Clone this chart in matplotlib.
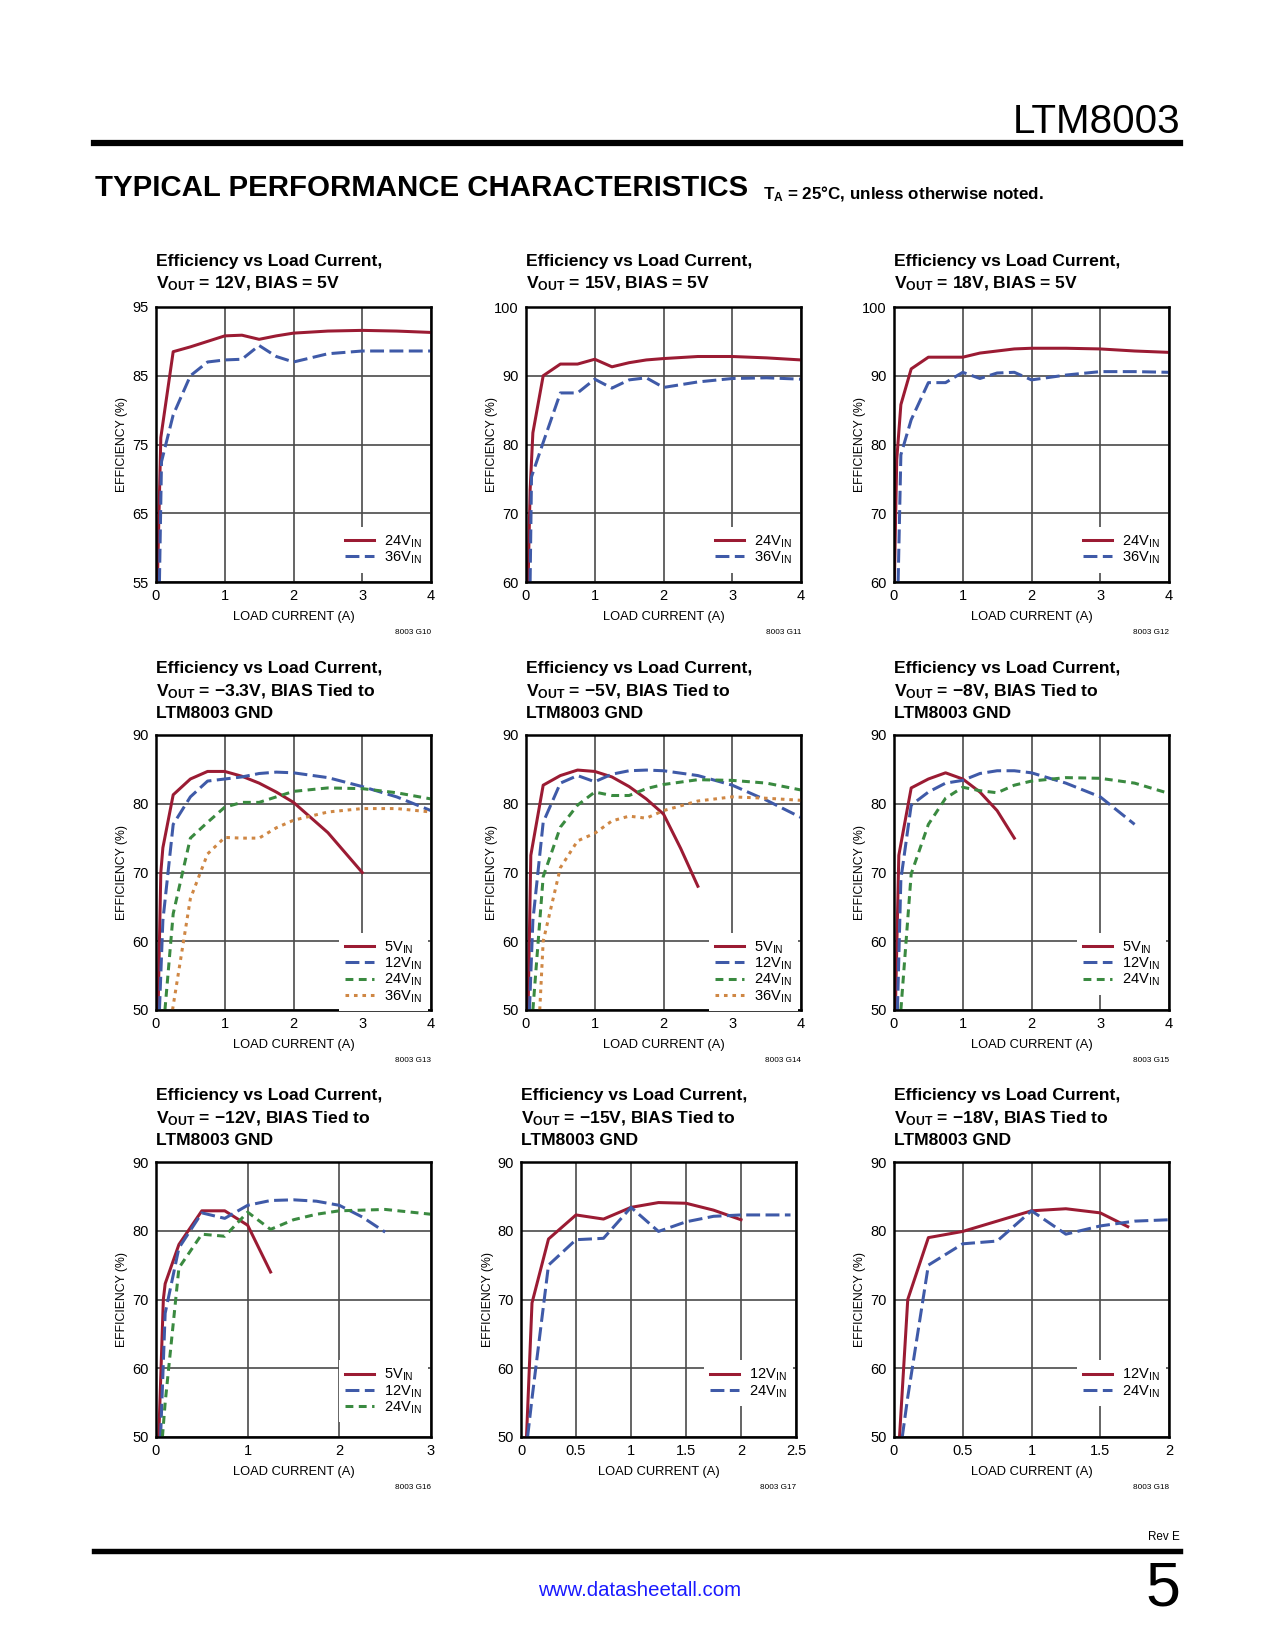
import matplotlib
matplotlib.use("Agg")
import matplotlib.pyplot as plt

plt.rcParams['font.family'] = ['Liberation Sans', 'DejaVu Sans']
plt.rcParams['mathtext.default'] = 'regular'

W, H = 1275, 1650
RED = '#9b1b33'
BLUE = '#3f5aa8'
GREEN = '#3a8a40'
ORANGE = '#cf8744'

# VOUT = 12V, BIAS = 5V
v12_x24 = [0.02, 0.07, 0.25, 0.5, 0.75, 1.0, 1.25, 1.5, 1.75, 2.0, 2.5, 3.0, 3.5, 4.0]
v12_y24 = [55, 76, 88.5, 89.2, 90.0, 90.8, 90.9, 90.3, 90.8, 91.2, 91.5, 91.6, 91.5, 91.3]
v12_x36 = [0.05, 0.08, 0.25, 0.5, 0.75, 1.0, 1.25, 1.5, 1.75, 2.0, 2.5, 3.0, 3.5, 4.0]
v12_y36 = [55, 72.5, 79.3, 85.0, 87.0, 87.3, 87.4, 89.4, 87.8, 87.0, 88.2, 88.6, 88.6, 88.6]

# VOUT = 15V, BIAS = 5V
v15_x24 = [0.03, 0.06, 0.1, 0.25, 0.5, 0.75, 1.0, 1.25, 1.5, 1.75, 2.0, 2.5, 3.0, 3.5, 4.0]
v15_y24 = [60, 73.4, 81.7, 90.0, 91.7, 91.7, 92.4, 91.3, 91.9, 92.3, 92.5, 92.8, 92.8, 92.6, 92.3]
v15_x36 = [0.06, 0.08, 0.25, 0.5, 0.75, 1.0, 1.25, 1.5, 1.75, 2.0, 2.5, 3.0, 3.5, 4.0]
v15_y36 = [60, 75.3, 80.3, 87.5, 87.5, 89.5, 88.2, 89.4, 89.7, 88.3, 89.1, 89.6, 89.7, 89.5]

# VOUT = 18V, BIAS = 5V
v18_x24 = [0.005, 0.04, 0.1, 0.25, 0.5, 0.75, 1.0, 1.25, 1.5, 1.75, 2.0, 2.5, 3.0, 3.5, 4.0]
v18_y24 = [60, 77.8, 85.8, 91.0, 92.7, 92.7, 92.7, 93.3, 93.6, 93.9, 94.0, 94.0, 93.9, 93.6, 93.4]
v18_x36 = [0.06, 0.1, 0.25, 0.5, 0.75, 1.0, 1.25, 1.5, 1.75, 2.0, 2.5, 3.0, 3.5, 4.0]
v18_y36 = [60, 78.5, 83.6, 89.0, 89.0, 90.5, 89.6, 90.4, 90.5, 89.4, 90.1, 90.6, 90.6, 90.5]

# VOUT = -3.3V
n3_x5 = [0.03, 0.07, 0.1, 0.25, 0.5, 0.75, 1.0, 1.25, 1.5, 1.75, 2.0, 2.5, 3.0]
n3_y5 = [50, 70.0, 73.6, 81.3, 83.6, 84.7, 84.7, 84.0, 83.0, 81.7, 80.2, 75.8, 70.0]
n3_x12 = [0.05, 0.1, 0.25, 0.5, 0.75, 1.0, 1.25, 1.5, 1.75, 2.0, 2.5, 3.0, 3.5, 4.0]
n3_y12 = [50, 63, 77.0, 81.0, 83.3, 83.6, 83.9, 84.4, 84.6, 84.5, 83.8, 82.5, 81.0, 79.0]
n3_x24 = [0.13, 0.25, 0.5, 0.75, 1.0, 1.25, 1.5, 1.75, 2.0, 2.5, 3.0, 3.5, 4.0]
n3_y24 = [50, 64, 75.0, 77.3, 79.5, 80.2, 80.2, 81.0, 81.8, 82.3, 82.2, 81.6, 80.7]
n3_x36 = [0.24, 0.5, 0.75, 1.0, 1.25, 1.5, 1.75, 2.0, 2.5, 3.0, 3.5, 4.0]
n3_y36 = [50, 66.2, 72.7, 75.1, 75.0, 75.0, 76.5, 77.6, 78.8, 79.3, 79.3, 78.8]

# VOUT = -5V
n5_x5 = [0.03, 0.07, 0.25, 0.5, 0.75, 1.0, 1.25, 1.5, 1.75, 2.0, 2.25, 2.5]
n5_y5 = [50, 72.5, 82.7, 84.1, 84.9, 84.7, 83.9, 82.5, 80.7, 78.5, 73.5, 68.0]
n5_x12 = [0.05, 0.1, 0.25, 0.5, 0.75, 1.0, 1.25, 1.5, 1.75, 2.0, 2.5, 3.0, 3.5, 4.0]
n5_y12 = [50, 63, 77.3, 83.0, 84.1, 83.2, 84.3, 84.8, 84.9, 84.8, 84.1, 82.7, 80.5, 78.0]
n5_x24 = [0.1, 0.25, 0.5, 0.75, 1.0, 1.25, 1.5, 1.75, 2.0, 2.5, 3.0, 3.5, 4.0]
n5_y24 = [50, 69.4, 76.6, 79.8, 81.7, 81.2, 81.2, 82.2, 82.8, 83.5, 83.4, 83.0, 82.0]
n5_x36 = [0.2, 0.25, 0.5, 0.75, 1.0, 1.25, 1.5, 1.75, 2.0, 2.5, 3.0, 3.5, 4.0]
n5_y36 = [50, 60, 70.7, 74.6, 75.7, 77.5, 78.2, 77.9, 79.0, 80.4, 81.0, 80.8, 80.5]

# VOUT = -8V
n8_x5 = [0.02, 0.07, 0.25, 0.5, 0.75, 1.0, 1.25, 1.5, 1.75]
n8_y5 = [50, 72.5, 82.3, 83.6, 84.5, 83.6, 81.7, 79.0, 75.0]
n8_x12 = [0.05, 0.1, 0.25, 0.5, 0.75, 1.0, 1.25, 1.5, 1.75, 2.0, 2.5, 3.0, 3.5]
n8_y12 = [50, 69, 79.8, 81.7, 83.0, 83.4, 84.4, 84.8, 84.8, 84.5, 83.0, 81.0, 77.0]
n8_x24 = [0.1, 0.25, 0.5, 0.75, 1.0, 1.25, 1.5, 1.75, 2.0, 2.5, 3.0, 3.5, 4.0]
n8_y24 = [50, 69.8, 77.0, 80.8, 82.4, 81.9, 81.6, 82.7, 83.3, 83.8, 83.7, 83.0, 81.5]

# VOUT = -12V
n12_x5 = [0.03, 0.08, 0.1, 0.25, 0.5, 0.75, 1.0, 1.25]
n12_y5 = [50, 70.0, 72.3, 78.0, 82.9, 82.9, 80.8, 74.0]
n12_x12 = [0.05, 0.1, 0.25, 0.5, 0.75, 1.0, 1.25, 1.5, 1.75, 2.0, 2.25, 2.5]
n12_y12 = [50, 68, 77.5, 82.6, 81.8, 83.7, 84.4, 84.5, 84.3, 83.7, 82.0, 79.8]
n12_x24 = [0.07, 0.1, 0.25, 0.5, 0.75, 1.0, 1.25, 1.5, 1.75, 2.0, 2.5, 3.0]
n12_y24 = [50, 55, 74.6, 79.5, 79.2, 82.7, 80.2, 81.6, 82.4, 82.9, 83.1, 82.4]

# VOUT = -15V
n15_x12 = [0.05, 0.1, 0.25, 0.5, 0.75, 1.0, 1.25, 1.5, 1.75, 2.0]
n15_y12 = [50, 69.5, 78.8, 82.3, 81.7, 83.4, 84.1, 84.0, 83.0, 81.6]
n15_x24 = [0.06, 0.1, 0.25, 0.5, 0.75, 1.0, 1.25, 1.5, 1.75, 2.0, 2.45]
n15_y24 = [50, 55.6, 75.0, 78.7, 78.9, 83.4, 79.9, 81.3, 82.1, 82.3, 82.3]

# VOUT = -18V
n18_x12 = [0.04, 0.07, 0.1, 0.25, 0.5, 0.75, 1.0, 1.25, 1.5, 1.7]
n18_y12 = [50, 60, 70.0, 79.0, 79.9, 81.4, 82.9, 83.2, 82.6, 80.6]
n18_x24 = [0.06, 0.1, 0.25, 0.5, 0.75, 1.0, 1.25, 1.5, 1.75, 2.0]
n18_y24 = [50, 55.8, 75.0, 78.1, 78.5, 82.9, 79.5, 80.7, 81.4, 81.6]

xticks_4 = [0, 1, 2, 3, 4]
xticks_3 = [0, 1, 2, 3]
xticks_25 = [0, 0.5, 1, 1.5, 2, 2.5]
xticks_2 = [0, 0.5, 1, 1.5, 2]

STY = {
    'red': dict(color=RED, linestyle='-'),
    'blue': dict(color=BLUE, dashes=(4.6, 1.8)),
    'green': dict(color=GREEN, dashes=(2.6, 1.8)),
    'orange': dict(color=ORANGE, dashes=(1.2, 1.6), dash_capstyle='butt'),
}

panels = [
    dict(pos=(156, 307), title='Efficiency vs Load Current,\n$V_{OUT}$ = 12V, BIAS = 5V',
         xt=xticks_4, yl=(55, 95), yt=[55, 65, 75, 85, 95], code='8003 G10', leg=0.212,
         series=[(v12_x24, v12_y24, 'red', '24V'), (v12_x36, v12_y36, 'blue', '36V')]),
    dict(pos=(526, 307), title='Efficiency vs Load Current,\n$V_{OUT}$ = 15V, BIAS = 5V',
         xt=xticks_4, yl=(60, 100), yt=[60, 70, 80, 90, 100], code='8003 G11', leg=0.212,
         series=[(v15_x24, v15_y24, 'red', '24V'), (v15_x36, v15_y36, 'blue', '36V')]),
    dict(pos=(894, 307), title='Efficiency vs Load Current,\n$V_{OUT}$ = 18V, BIAS = 5V',
         xt=xticks_4, yl=(60, 100), yt=[60, 70, 80, 90, 100], code='8003 G12', leg=0.212,
         series=[(v18_x24, v18_y24, 'red', '24V'), (v18_x36, v18_y36, 'blue', '36V')]),
    dict(pos=(156, 735), title='Efficiency vs Load Current,\n$V_{OUT}$ = \u22123.3V, BIAS Tied to\nLTM8003 GND',
         xt=xticks_4, yl=(50, 90), yt=[50, 60, 70, 80, 90], code='8003 G13', leg=0.292,
         series=[(n3_x5, n3_y5, 'red', '5V'), (n3_x12, n3_y12, 'blue', '12V'),
                 (n3_x24, n3_y24, 'green', '24V'), (n3_x36, n3_y36, 'orange', '36V')]),
    dict(pos=(526, 735), title='Efficiency vs Load Current,\n$V_{OUT}$ = \u22125V, BIAS Tied to\nLTM8003 GND',
         xt=xticks_4, yl=(50, 90), yt=[50, 60, 70, 80, 90], code='8003 G14', leg=0.292,
         series=[(n5_x5, n5_y5, 'red', '5V'), (n5_x12, n5_y12, 'blue', '12V'),
                 (n5_x24, n5_y24, 'green', '24V'), (n5_x36, n5_y36, 'orange', '36V')]),
    dict(pos=(894, 735), title='Efficiency vs Load Current,\n$V_{OUT}$ = \u22128V, BIAS Tied to\nLTM8003 GND',
         xt=xticks_4, yl=(50, 90), yt=[50, 60, 70, 80, 90], code='8003 G15', leg=0.292,
         series=[(n8_x5, n8_y5, 'red', '5V'), (n8_x12, n8_y12, 'blue', '12V'),
                 (n8_x24, n8_y24, 'green', '24V')]),
    dict(pos=(156, 1162), title='Efficiency vs Load Current,\n$V_{OUT}$ = \u221212V, BIAS Tied to\nLTM8003 GND',
         xt=xticks_3, yl=(50, 90), yt=[50, 60, 70, 80, 90], code='8003 G16', leg=0.29,
         series=[(n12_x5, n12_y5, 'red', '5V'), (n12_x12, n12_y12, 'blue', '12V'),
                 (n12_x24, n12_y24, 'green', '24V')]),
    dict(pos=(521, 1162), title='Efficiency vs Load Current,\n$V_{OUT}$ = \u221215V, BIAS Tied to\nLTM8003 GND',
         xt=xticks_25, yl=(50, 90), yt=[50, 60, 70, 80, 90], code='8003 G17', leg=0.29,
         series=[(n15_x12, n15_y12, 'red', '12V'), (n15_x24, n15_y24, 'blue', '24V')]),
    dict(pos=(894, 1162), title='Efficiency vs Load Current,\n$V_{OUT}$ = \u221218V, BIAS Tied to\nLTM8003 GND',
         xt=xticks_2, yl=(50, 90), yt=[50, 60, 70, 80, 90], code='8003 G18', leg=0.29,
         series=[(n18_x12, n18_y12, 'red', '12V'), (n18_x24, n18_y24, 'blue', '24V')]),
]

fig = plt.figure(figsize=(W / 150, H / 150), dpi=150)

AW, AH = 275, 275
for p in panels:
    l, t = p['pos']
    ax = fig.add_axes([l / W, 1 - (t + AH) / H, AW / W, AH / H])
    for xs, ys, key, lab in p['series']:
        ax.plot(xs, ys, lw=1.45, label=lab + '$_{IN}$', **STY[key])
    ax.set_xlim(p['xt'][0], p['xt'][-1])
    ax.set_ylim(*p['yl'])
    ax.set_xticks(p['xt'])
    ax.set_xticklabels(['{:g}'.format(v) for v in p['xt']])
    ax.set_yticks(p['yt'])
    ax.tick_params(length=0, labelsize=7.0, pad=3.5)
    ax.grid(True, color='#4a4a4a', lw=0.8)
    ax.set_axisbelow(True)
    for s in ax.spines.values():
        s.set_linewidth(1.2)
    ax.set_xlabel('LOAD CURRENT (A)', fontsize=6.2)
    ax.xaxis.set_label_coords(0.5, -0.105)
    ax.set_ylabel('EFFICIENCY (%)', fontsize=5.9)
    ax.yaxis.set_label_coords(-0.10, 0.5)
    ax.text(1.0, -0.183, p['code'], transform=ax.transAxes, ha='right', va='center', fontsize=3.9)
    ax.text(0.0, 1.05, p['title'], transform=ax.transAxes, ha='left', va='bottom',
            fontsize=8.4, fontweight='bold', linespacing=1.46)
    ax.legend(loc='upper right', bbox_to_anchor=(1.0, p['leg']), borderaxespad=0.2,
              frameon=True, fancybox=False, framealpha=1, facecolor='white', edgecolor='none',
              fontsize=7.0, handlelength=2.0, handletextpad=0.65, labelspacing=0.0,
              borderpad=0.45)

# page header and footer
fig.text(1180 / W, 1 - 122 / H, 'LTM8003', ha='right', va='center', fontsize=19.4)
fig.add_artist(plt.Line2D([94 / W, 1180 / W], [1 - 143 / H, 1 - 143 / H], color='black', lw=3))
fig.text(95 / W, 1 - 188 / H, 'TYPICAL PERFORMANCE CHARACTERISTICS', ha='left', va='center',
         fontsize=14.1, fontweight='heavy')
fig.text(763 / W, 1 - 194 / H, '$T_A$ = 25\u00b0C, unless otherwise noted.', ha='left', va='center',
         fontsize=8.2, fontweight='bold')
fig.text(1180 / W, 1 - 1537 / H, 'Rev E', ha='right', va='center', fontsize=5.6)
fig.add_artist(plt.Line2D([94 / W, 1180 / W], [1 - 1551 / H, 1 - 1551 / H], color='black', lw=2.6))
fig.text(1180 / W, 1 - 1589 / H, '5', ha='right', va='center', fontsize=30)
fig.text(640 / W, 1 - 1591 / H, 'www.datasheetall.com', ha='center', va='center', fontsize=9.8,
         color='#1a1aff')

fig.savefig('out.png', dpi=150)
